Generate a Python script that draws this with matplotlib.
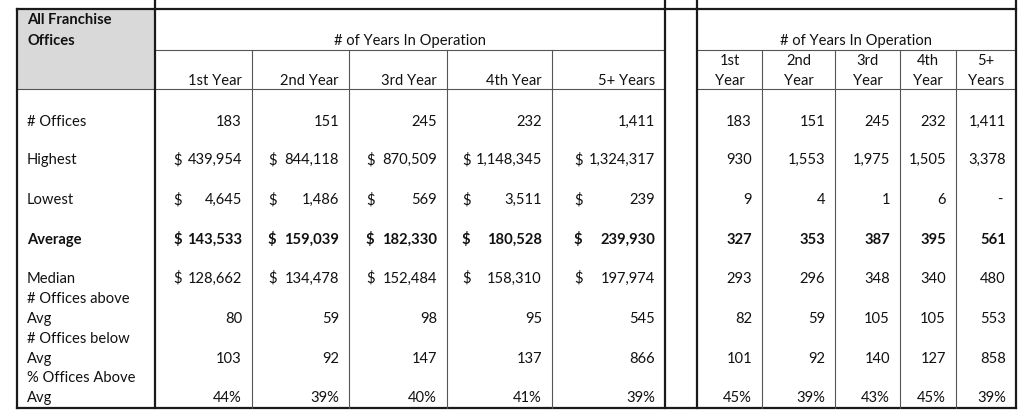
import matplotlib
matplotlib.use("Agg")
import matplotlib.pyplot as plt
from matplotlib.patches import Rectangle

plt.rcParams['font.family'] = ['Lato', 'DejaVu Sans']

# ---------------- data ----------------
years_left = ["1st Year", "2nd Year", "3rd Year", "4th Year", "5+ Years"]
years_right = [("1st", "Year"), ("2nd", "Year"), ("3rd", "Year"), ("4th", "Year"), ("5+", "Years")]
group_title = "# of Years In Operation"
corner_title = ("All Franchise", "Offices")

row_labels = [("# Offices",), ("Highest",), ("Lowest",), ("Average",), ("Median",),
              ("# Offices above", "Avg"), ("# Offices below", "Avg"),
              ("% Offices Above", "Avg")]

offices = [183, 151, 245, 232, 1411]
highest = [439954, 844118, 870509, 1148345, 1324317]
lowest = [4645, 1486, 569, 3511, 239]
average = [143533, 159039, 182330, 180528, 239930]
median = [128662, 134478, 152484, 158310, 197974]
above_avg = [80, 59, 98, 95, 545]
below_avg = [103, 92, 147, 137, 866]
pct_above = [44, 39, 40, 41, 39]

offices_r = [183, 151, 245, 232, 1411]
highest_r = [930, 1553, 1975, 1505, 3378]
lowest_r = [9, 4, 1, 6, None]
average_r = [327, 353, 387, 395, 561]
median_r = [293, 296, 348, 340, 480]
above_avg_r = [82, 59, 105, 105, 553]
below_avg_r = [101, 92, 140, 127, 858]
pct_above_r = [45, 39, 43, 45, 39]

# ---------------- layout (pixels) ----------------
W, H = 1024, 417
fig = plt.figure(figsize=(W / 100, H / 100), dpi=100)
ax = fig.add_axes([0, 0, 1, 1])
ax.set_xlim(0, W)
ax.set_ylim(H, 0)
ax.axis('off')

x_lab = 17
left_cols = [155, 252, 349, 447, 552, 665]
right_cols = [697, 762, 835, 900, 956, 1016]
dollar_off = [18, 16, 17, 15, 22]
y_top, y_mid, y_hdr, y_bot = 9, 50, 89, 408
# baselines of the value rows
y_vals = [126, 164, 204, 244, 283, 323, 363, 402]
line_gap = 20

FS = 10.6
dark = '#1a1a1a'
thin_c = '#555555'
thick = 1.6
thin = 0.8
tc = '#111111'

# gray corner
ax.add_patch(Rectangle((x_lab, y_top), left_cols[0] - x_lab, y_hdr - y_top,
                       facecolor='#d9d9d9', edgecolor='none', zorder=0))

# horizontal lines
ax.plot([x_lab, right_cols[-1]], [y_top, y_top], color=dark, lw=thick)
ax.plot([x_lab, right_cols[-1]], [y_bot, y_bot], color=dark, lw=thick)
ax.plot([left_cols[0], left_cols[-1]], [y_mid, y_mid], color=thin_c, lw=thin)
ax.plot([right_cols[0], right_cols[-1]], [y_mid, y_mid], color=thin_c, lw=thin)
ax.plot([x_lab, left_cols[-1]], [y_hdr, y_hdr], color=thin_c, lw=thin)
ax.plot([right_cols[0], right_cols[-1]], [y_hdr, y_hdr], color=thin_c, lw=thin)

# vertical lines
ax.plot([x_lab, x_lab], [y_top, y_bot], color=dark, lw=thick)
for x in [left_cols[0], left_cols[-1], right_cols[0], right_cols[-1]]:
    ax.plot([x, x], [0, y_bot], color=dark, lw=thick)
for cols in (left_cols, right_cols):
    for x in cols[1:-1]:
        ax.plot([x, x], [y_mid, y_bot], color=thin_c, lw=thin)


def txt(x, y, s, ha='left', bold=False):
    ax.text(x, y, s, fontsize=FS, ha=ha, va='baseline', color=tc,
            fontweight='bold' if bold else 'normal')


# headers
txt(27, 24, corner_title[0], bold=True)
txt(27, 45, corner_title[1], bold=True)
txt((left_cols[0] + left_cols[-1]) / 2, 45, group_title, ha='center')
txt((right_cols[0] + right_cols[-1]) / 2, 45, group_title, ha='center')
for i, lab in enumerate(years_left):
    txt(left_cols[i + 1] - 10, 85, lab, ha='right')
for i, (a, b) in enumerate(years_right):
    xc = (right_cols[i] + right_cols[i + 1]) / 2
    txt(xc, 65, a, ha='center')
    txt(xc, 85, b, ha='center')

# row labels
for r, parts in enumerate(row_labels):
    bold = parts[0] == "Average"
    n = len(parts)
    for k, p in enumerate(parts):
        txt(27, y_vals[r] - (n - 1 - k) * line_gap, p, bold=bold)


def fmt(v):
    return "-" if v is None else f"{v:,}"


left_rows = [offices, highest, lowest, average, median, above_avg, below_avg, pct_above]
right_rows = [offices_r, highest_r, lowest_r, average_r, median_r,
              above_avg_r, below_avg_r, pct_above_r]
money_rows = {1, 2, 3, 4}

for r, vals in enumerate(left_rows):
    bold = r == 3
    for i, v in enumerate(vals):
        s = f"{v}%" if r == 7 else fmt(v)
        txt(left_cols[i + 1] - 10, y_vals[r], s, ha='right', bold=bold)
        if r in money_rows:
            txt(left_cols[i] + dollar_off[i], y_vals[r], "$", bold=bold)

for r, vals in enumerate(right_rows):
    bold = r == 3
    for i, v in enumerate(vals):
        s = f"{v}%" if r == 7 else fmt(v)
        xr = right_cols[i + 1] - 10
        if v is None:
            xr -= 4
        txt(xr, y_vals[r], s, ha='right', bold=bold)

fig.savefig("out.png", dpi=100, facecolor='white')
